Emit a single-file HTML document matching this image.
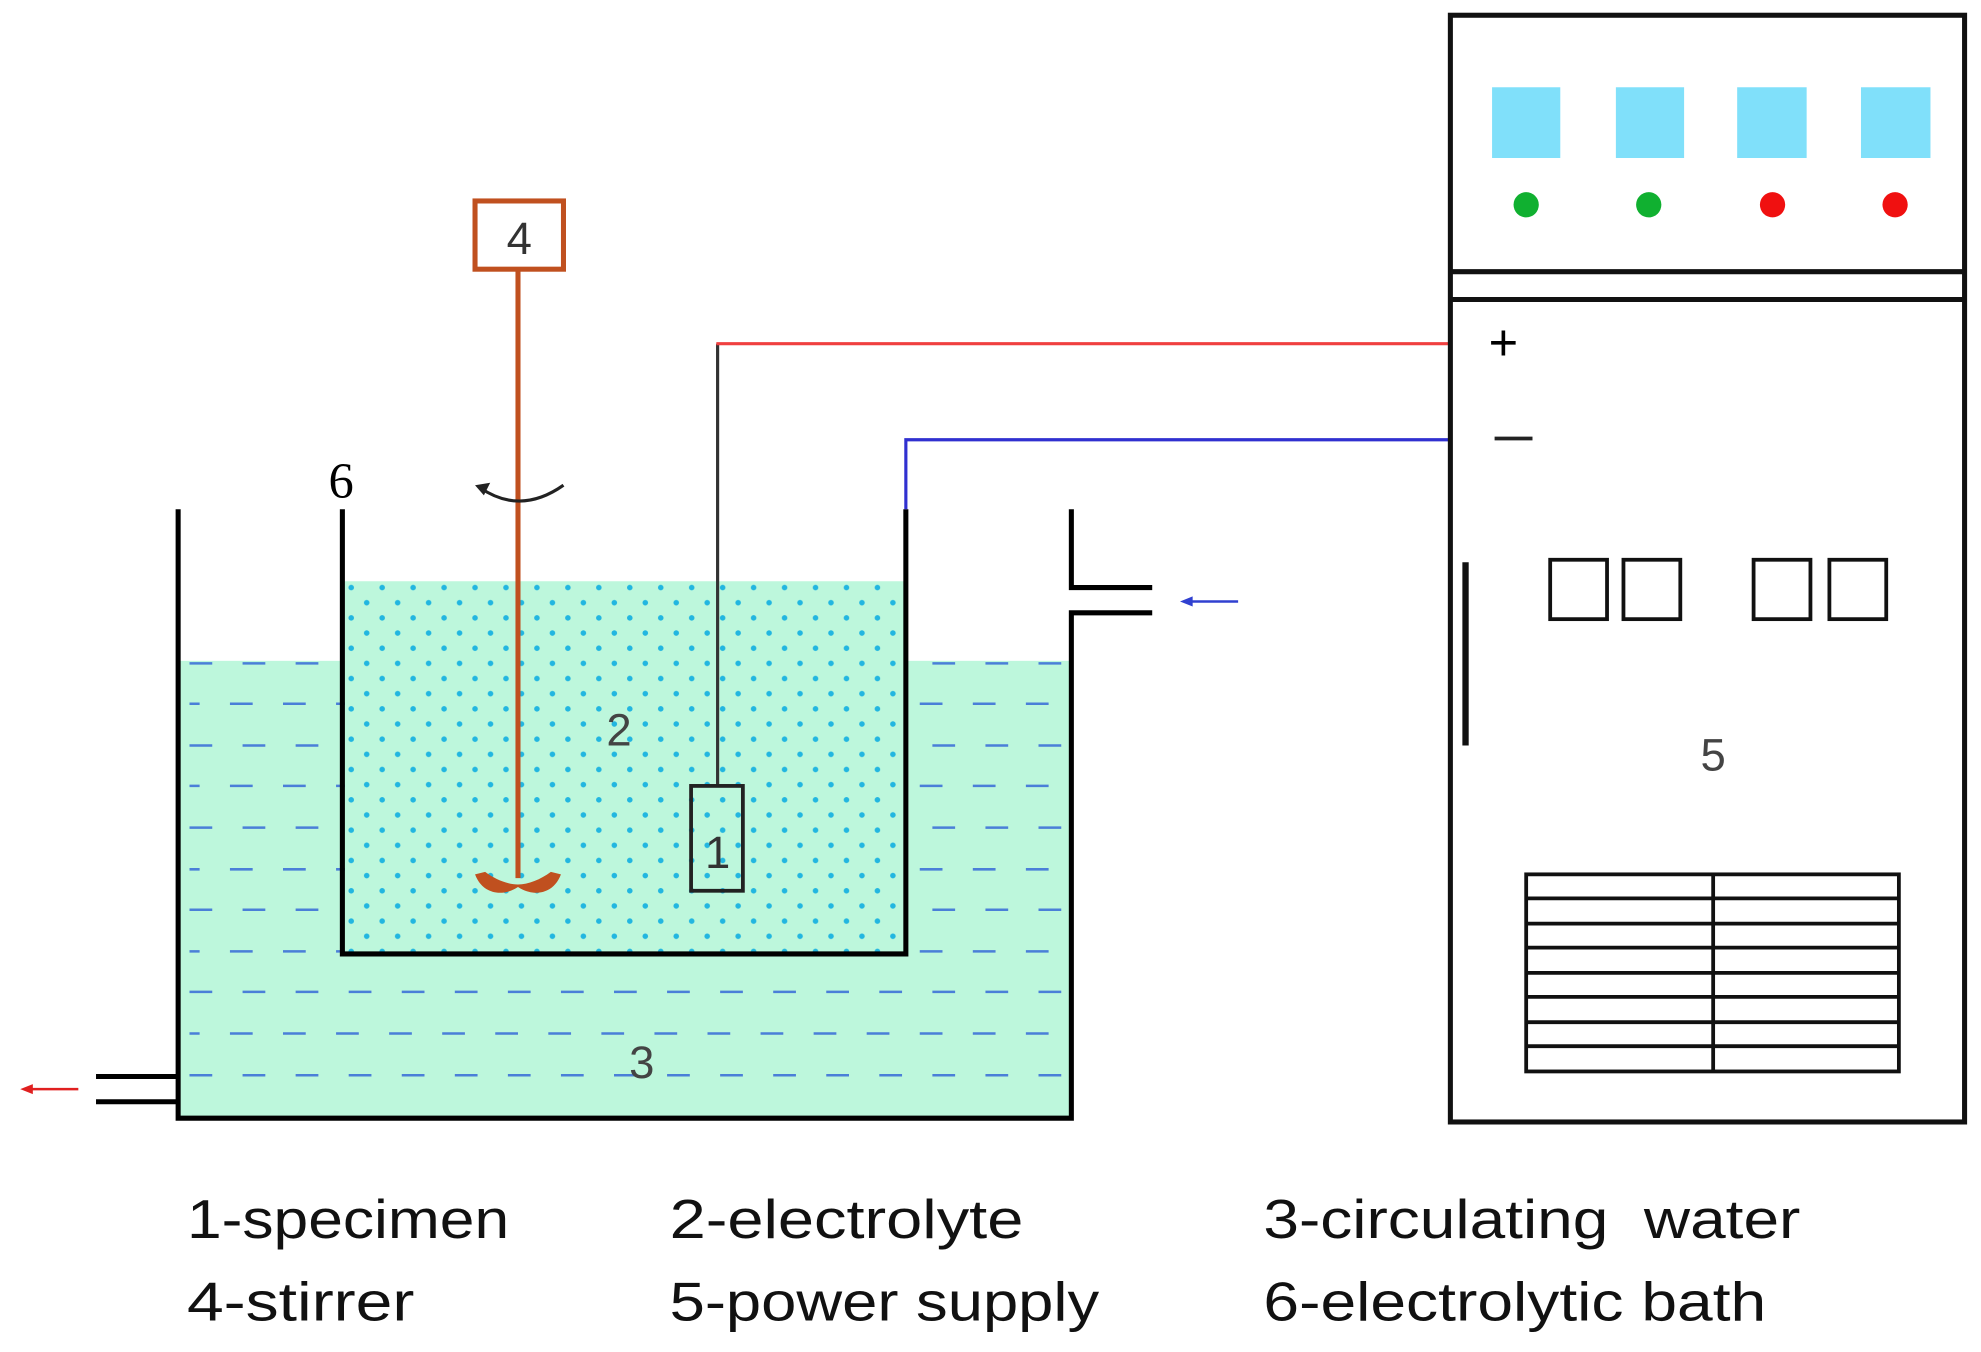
<!DOCTYPE html>
<html><head><meta charset="utf-8"><style>html,body{margin:0;padding:0;background:#fff}svg{display:block}</style></head>
<body>
<svg width="1981" height="1352" viewBox="0 0 1568 1070" xmlns="http://www.w3.org/2000/svg">
<defs>
<pattern id="dots" x="275" y="462" width="24.5" height="24" patternUnits="userSpaceOnUse">
<rect width="24.5" height="24" fill="#bdf7dc"/>
<circle cx="3" cy="3" r="2.2" fill="#22b6e0"/>
<circle cx="15.25" cy="15" r="2.2" fill="#22b6e0"/>
</pattern>
</defs>
<rect x="141" y="523" width="707" height="362" fill="#bdf7dc"/>
<g stroke="#4a7fd8" stroke-width="2" stroke-dasharray="18 24">
<line x1="150" y1="525" x2="848" y2="525"/>
<line x1="150" y1="557" x2="848" y2="557" stroke-dashoffset="10"/>
<line x1="150" y1="590" x2="848" y2="590"/>
<line x1="150" y1="622" x2="848" y2="622" stroke-dashoffset="10"/>
<line x1="150" y1="655" x2="848" y2="655"/>
<line x1="150" y1="688" x2="848" y2="688" stroke-dashoffset="10"/>
<line x1="150" y1="720" x2="848" y2="720"/>
<line x1="150" y1="753" x2="848" y2="753" stroke-dashoffset="10"/>
<line x1="150" y1="785" x2="848" y2="785"/>
<line x1="150" y1="818" x2="848" y2="818" stroke-dashoffset="10"/>
<line x1="150" y1="851" x2="848" y2="851"/>
</g>
<rect x="273" y="460" width="443" height="294" fill="url(#dots)"/>
<g stroke="#000" stroke-width="4" fill="none">
<polyline points="141,403 141,885 848,885 848,485 912,485"/>
<polyline points="848,403 848,465 912,465"/>
<line x1="76" y1="852" x2="141" y2="852"/>
<line x1="76" y1="872" x2="141" y2="872"/>
<polyline points="271,403 271,755 717,755 717,403"/>
</g>
<line x1="940" y1="476" x2="980" y2="476" stroke="#3040d0" stroke-width="2"/>
<path d="M934,476 L944,472 L944,480 Z" fill="#3040d0"/>
<line x1="22" y1="862" x2="62" y2="862" stroke="#e02020" stroke-width="2"/>
<path d="M16,862 L26,858 L26,866 Z" fill="#e02020"/>
<rect x="376" y="159" width="70" height="54" fill="#fff" stroke="#c0501f" stroke-width="4"/>
<text x="411" y="201" font-family="Liberation Sans, sans-serif" font-size="36" fill="#333" text-anchor="middle">4</text>
<line x1="410" y1="213" x2="410" y2="695" stroke="#c0501f" stroke-width="4"/>
<path d="M410,702 C398,710 382,708 376,692 L384,690 C392,696 402,700 410,700 C418,700 428,696 436,690 L444,692 C438,708 422,710 410,702 Z" fill="#c0501f"/>
<path d="M446,384 Q412,408 380,386" fill="none" stroke="#222" stroke-width="2.5"/>
<path d="M376,384 L388,382 L383,392 Z" fill="#222"/>
<text x="270" y="394" font-family="Liberation Serif, serif" font-size="40" text-anchor="middle">6</text>
<line x1="568" y1="272" x2="568" y2="622" stroke="#333" stroke-width="2.5"/>
<line x1="567" y1="272" x2="1148" y2="272" stroke="#f04040" stroke-width="2.5"/>
<polyline points="717,403 717,348 1148,348" fill="none" stroke="#3030d0" stroke-width="2.5"/>
<rect x="547" y="622" width="41" height="83" fill="none" stroke="#222" stroke-width="3"/>
<text x="568" y="687" font-family="Liberation Sans, sans-serif" font-size="36" fill="#333" text-anchor="middle">1</text>
<text x="490" y="590" font-family="Liberation Sans, sans-serif" font-size="36" fill="#444" text-anchor="middle">2</text>
<text x="508" y="853" font-family="Liberation Sans, sans-serif" font-size="36" fill="#444" text-anchor="middle">3</text>
<g stroke="#111" stroke-width="4" fill="none">
<rect x="1148" y="12" width="407" height="876"/>
<line x1="1148" y1="215" x2="1555" y2="215"/>
<line x1="1148" y1="237" x2="1555" y2="237"/>
</g>
<g fill="#80e0fa">
<rect x="1181" y="69" width="54" height="56"/>
<rect x="1279" y="69" width="54" height="56"/>
<rect x="1375" y="69" width="55" height="56"/>
<rect x="1473" y="69" width="55" height="56"/>
</g>
<circle cx="1208" cy="162" r="10" fill="#10b030"/>
<circle cx="1305" cy="162" r="10" fill="#10b030"/>
<circle cx="1403" cy="162" r="10" fill="#f01010"/>
<circle cx="1500" cy="162" r="10" fill="#f01010"/>
<text x="1190" y="285" font-family="Liberation Sans, sans-serif" font-size="40" text-anchor="middle">+</text>
<line x1="1183" y1="347" x2="1213" y2="347" stroke="#222" stroke-width="3"/>
<line x1="1160" y1="445" x2="1160" y2="590" stroke="#111" stroke-width="5"/>
<g stroke="#111" stroke-width="3" fill="none">
<rect x="1227" y="443" width="45" height="47"/>
<rect x="1285" y="443" width="45" height="47"/>
<rect x="1388" y="443" width="45" height="47"/>
<rect x="1448" y="443" width="45" height="47"/>
<rect x="1208" y="692" width="295" height="156"/>
<line x1="1356" y1="692" x2="1356" y2="848"/>
<line x1="1208" y1="711" x2="1503" y2="711"/>
<line x1="1208" y1="731" x2="1503" y2="731"/>
<line x1="1208" y1="750" x2="1503" y2="750"/>
<line x1="1208" y1="770" x2="1503" y2="770"/>
<line x1="1208" y1="789" x2="1503" y2="789"/>
<line x1="1208" y1="809" x2="1503" y2="809"/>
<line x1="1208" y1="828" x2="1503" y2="828"/>
</g>
<text x="1356" y="610" font-family="Liberation Sans, sans-serif" font-size="36" fill="#444" text-anchor="middle">5</text>
<g font-family="Liberation Sans, sans-serif" font-size="43" fill="#111">
<text x="148" y="980" textLength="255" lengthAdjust="spacingAndGlyphs">1-specimen</text>
<text x="530" y="980" textLength="280" lengthAdjust="spacingAndGlyphs">2-electrolyte</text>
<text x="1000" y="980" xml:space="preserve" textLength="425" lengthAdjust="spacingAndGlyphs">3-circulating  water</text>
<text x="148" y="1045" textLength="180" lengthAdjust="spacingAndGlyphs">4-stirrer</text>
<text x="530" y="1045" textLength="340" lengthAdjust="spacingAndGlyphs">5-power supply</text>
<text x="1000" y="1045" textLength="398" lengthAdjust="spacingAndGlyphs">6-electrolytic bath</text>
</g>
</svg>
</body></html>
